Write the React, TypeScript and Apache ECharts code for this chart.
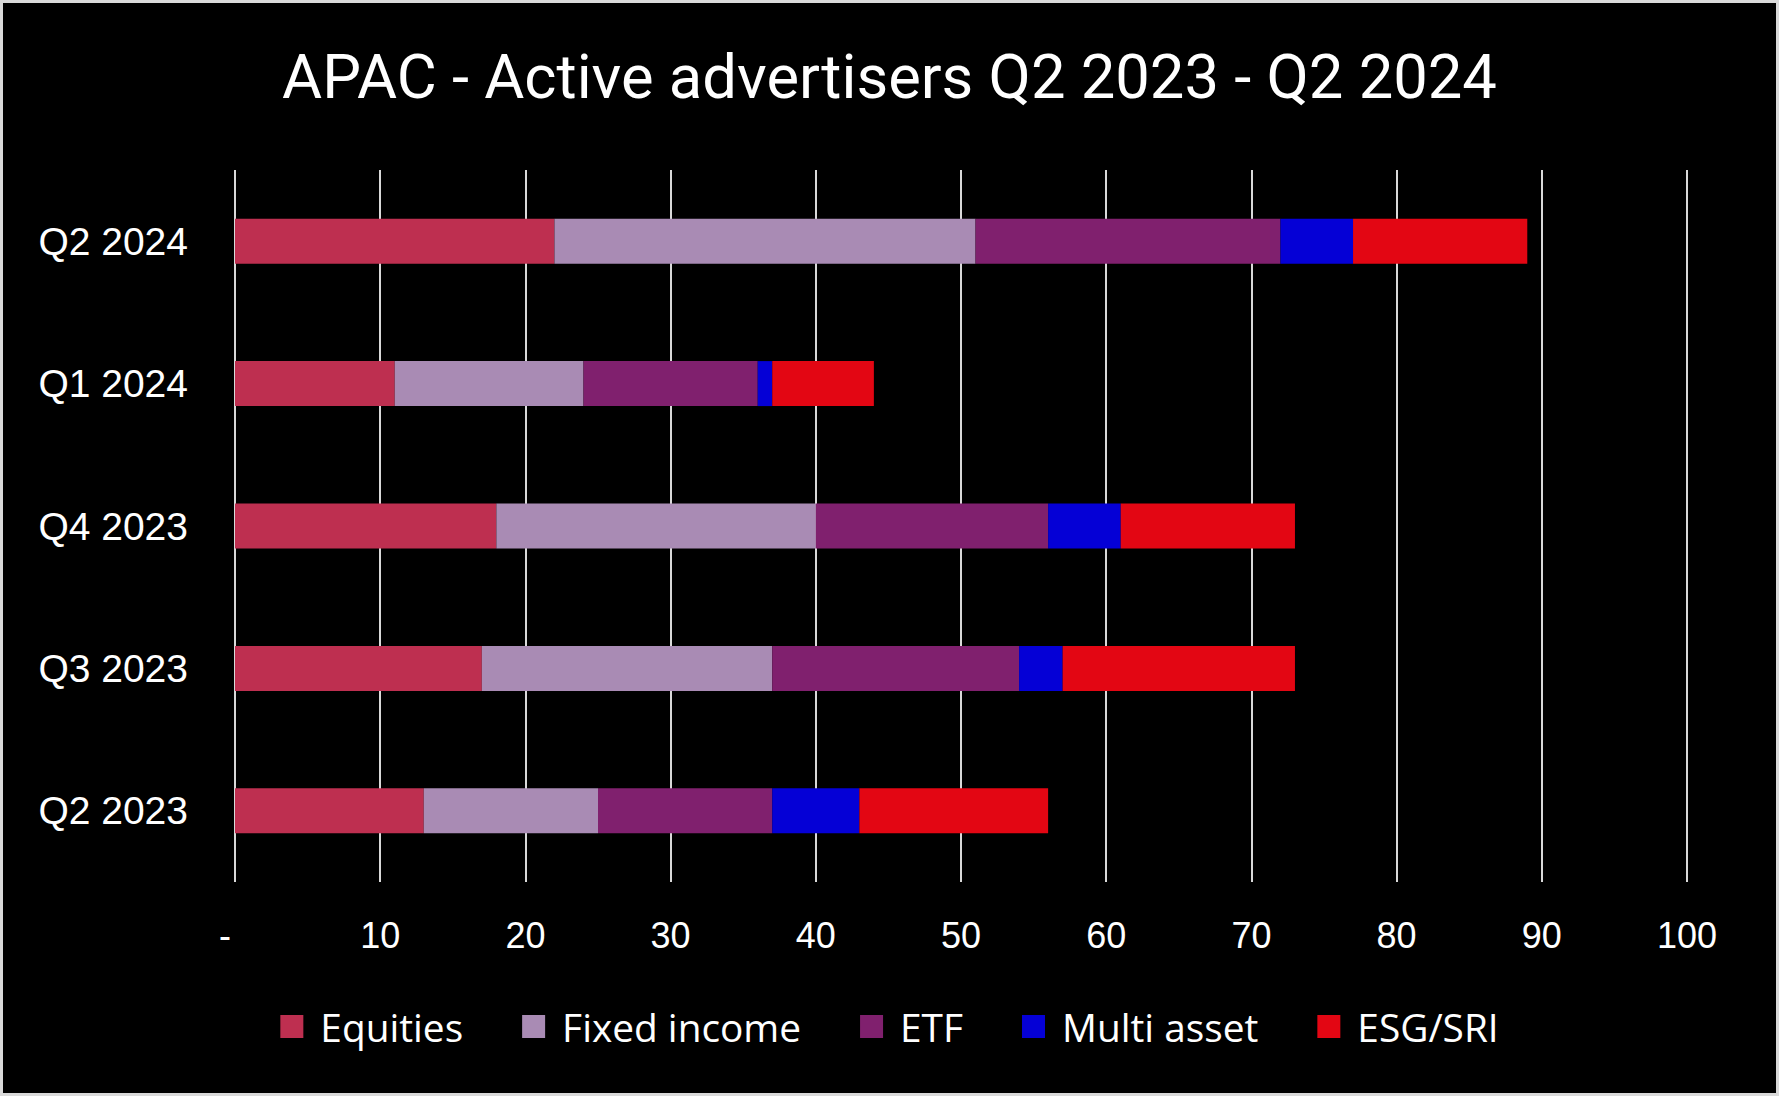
import React, { useEffect, useRef } from "react";
import * as echarts from "echarts";

const categories = ["Q2 2023", "Q3 2023", "Q4 2023", "Q1 2024", "Q2 2024"];
const equities = [13, 17, 18, 11, 22];
const fixedIncome = [12, 20, 22, 13, 29];
const etf = [12, 17, 16, 12, 21];
const multiAsset = [6, 3, 5, 1, 5];
const esgSri = [13, 16, 12, 7, 12];

const seriesNames = ["Equities", "Fixed income", "ETF", "Multi asset", "ESG/SRI"];
const seriesColors = ["#BE2F50", "#A98BB4", "#80206E", "#0500D6", "#E30613"];
const seriesData = [equities, fixedIncome, etf, multiAsset, esgSri];

const xTickMin = 0;
const xTickMax = 100;
const xTickStep = 10;

export default function App() {
  const ref = useRef<HTMLDivElement>(null);
  useEffect(() => {
    if (!ref.current) return;
    const chart = echarts.init(ref.current, null, { renderer: "svg" });
    chart.setOption({
      animation: false,
      backgroundColor: "#000000",
      title: {
        text: "APAC - Active advertisers Q2 2023 - Q2 2024",
        left: "center",
        top: 41,
        textStyle: {
          color: "#ffffff",
          fontFamily: "Roboto",
          fontWeight: "normal",
          fontSize: 61.5,
        },
      },
      legend: {
        data: seriesNames,
        left: "center",
        top: 1002,
        itemWidth: 23,
        itemHeight: 23,
        itemGap: 59,
        icon: "rect",
        textStyle: {
          color: "#ffffff",
          fontFamily: "Open Sans",
          fontSize: 38.8,
          padding: [0, 0, 0, 12],
        },
      },
      grid: { left: 235, right: 92, top: 170, bottom: 214, containLabel: false },
      xAxis: {
        type: "value",
        min: xTickMin,
        max: xTickMax,
        interval: xTickStep,
        axisLine: { show: false },
        axisTick: { show: false },
        splitLine: { show: true, lineStyle: { color: "#d9d9d9", width: 2 } },
        axisLabel: {
          color: "#ffffff",
          fontFamily: "Liberation Sans",
          fontSize: 36,
          margin: 35,
          formatter: (v: number) => (v === 0 ? "-  " : String(v)),
        },
      },
      yAxis: {
        type: "category",
        data: categories,
        axisLine: { show: false },
        axisTick: { show: false },
        axisLabel: {
          color: "#ffffff",
          fontFamily: "Liberation Sans",
          fontSize: 39,
          margin: 47,
        },
      },
      series: seriesNames.map((name, i) => ({
        name,
        type: "bar",
        stack: "total",
        barWidth: 45,
        data: seriesData[i],
        itemStyle: { color: seriesColors[i] },
      })),
      graphic: [
        {
          type: "rect",
          shape: { x: 1.5, y: 1.5, width: 1776, height: 1093 },
          style: { fill: "none", stroke: "#d9d9d9", lineWidth: 3 },
          silent: true,
          z: 100,
        },
      ],
    });
    return () => chart.dispose();
  }, []);
  return (
    <div
      ref={ref}
      style={{ position: "fixed", left: 0, top: 0, width: 1779, height: 1096 }}
    />
  );
}
